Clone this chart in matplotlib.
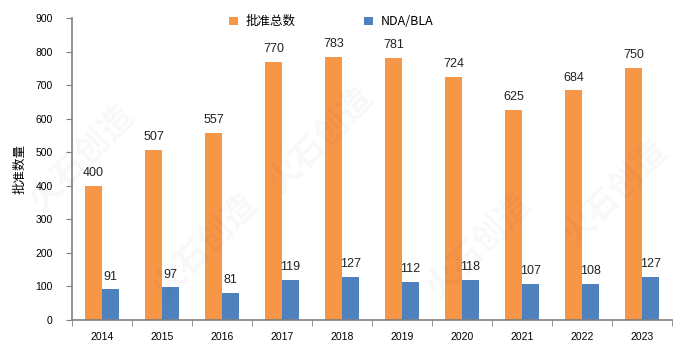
import matplotlib.pyplot as plt
import numpy as np

plt.rcParams['font.family'] = ['Liberation Sans', 'Noto Sans CJK SC', 'DejaVu Sans']

years = ['2014', '2015', '2016', '2017', '2018', '2019', '2020', '2021', '2022', '2023']
total = [400, 507, 557, 770, 783, 781, 724, 625, 684, 750]
nda_bla = [91, 97, 81, 119, 127, 112, 118, 107, 108, 127]

orange = '#F79646'
blue = '#4F81BD'
grey = '#808080'

fig = plt.figure(figsize=(6.84, 3.51), dpi=100)
ax = fig.add_axes([72 / 684, 31 / 351, 600 / 684, 302 / 351])

x = np.arange(len(years))
w = 0.283
b1 = ax.bar(x - w / 2, total, w, color=orange, label='批准总数')
b2 = ax.bar(x + w / 2, nda_bla, w, color=blue, label='NDA/BLA')

for bars, vals in [(b1, total), (b2, nda_bla)]:
    for r, v in zip(bars, vals):
        ax.annotate(str(v), (r.get_x() + r.get_width() / 2, v), xytext=(0, 5),
                    textcoords='offset points', ha='center', va='bottom',
                    fontsize=9, color='#222222')

ax.set_xlim(-0.5, len(years) - 0.5)
ax.set_ylim(0, 900)
ax.set_yticks(range(0, 901, 100))
ax.tick_params(axis='y', labelsize=7.5, length=4, color=grey, pad=10)

# category labels centred, ticks between categories
ax.set_xticks(x)
ax.set_xticklabels(years, fontsize=7.5)
ax.tick_params(axis='x', length=0, pad=9)
ax.set_xticks(np.arange(-0.5, len(years)), minor=True)
ax.tick_params(axis='x', which='minor', length=4, color=grey)

for s in ['top', 'right']:
    ax.spines[s].set_visible(False)
for s in ['left', 'bottom']:
    ax.spines[s].set_color(grey)
    ax.spines[s].set_linewidth(1.2)

ax.set_ylabel('批准数量', fontsize=9, family=['Noto Sans CJK SC', 'DejaVu Sans'], labelpad=6)

leg = fig.legend(loc='upper left', bbox_to_anchor=(218 / 684, 1 - 4 / 351), ncol=2,
                 frameon=False, handlelength=0.7, handleheight=0.7,
                 columnspacing=5.5, handletextpad=0.6,
                 prop={'family': ['Noto Sans CJK SC', 'DejaVu Sans'], 'size': 9})

# faint watermark
for wx, wy in [(0.12, 0.55), (0.47, 0.6), (0.9, 0.45), (0.3, 0.3), (0.7, 0.3)]:
    fig.text(wx, wy, '火石创造', fontsize=24, color='#000000', alpha=0.03,
             rotation=45, ha='center', va='center', fontweight='bold',
             family=['Noto Sans CJK SC'])

fig.savefig('out.png', dpi=100)
